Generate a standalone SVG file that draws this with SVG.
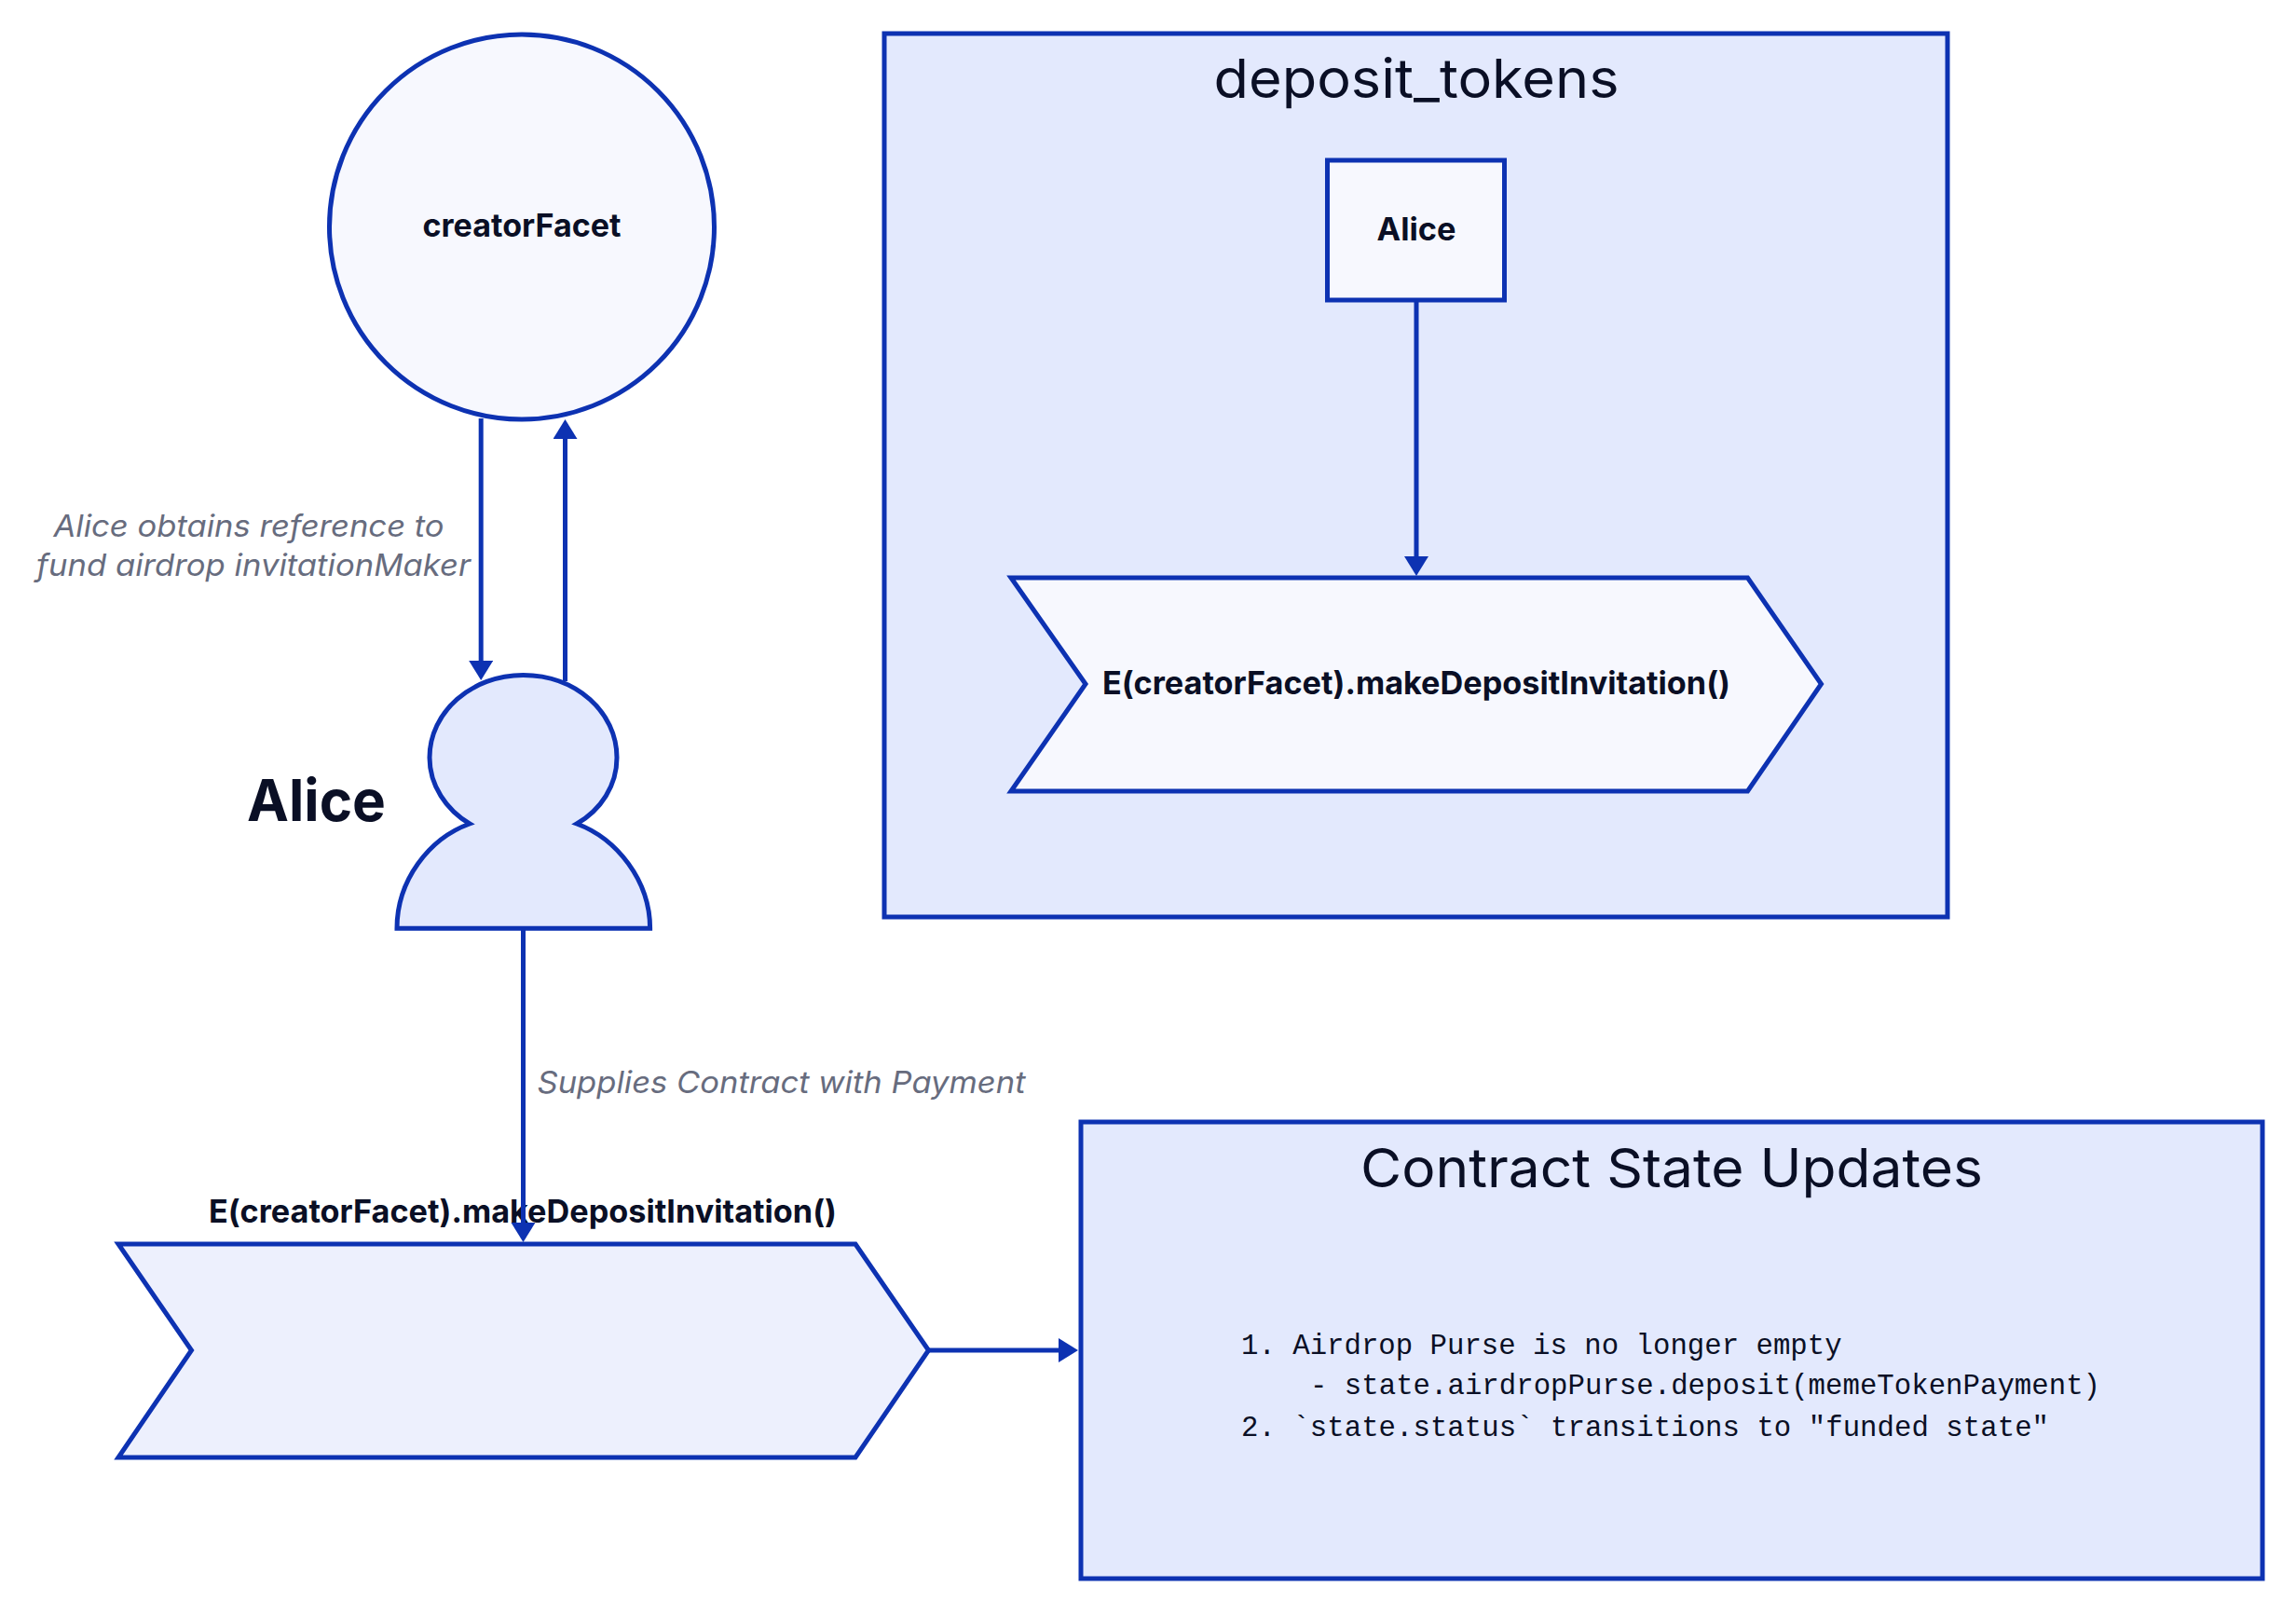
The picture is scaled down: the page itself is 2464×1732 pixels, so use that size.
<svg xmlns="http://www.w3.org/2000/svg" width="2464" height="1732" viewBox="0 0 2464 1732">
<style>
.s{stroke:#0d32b2;stroke-width:5;stroke-linejoin:miter}
.f1{fill:#e3e9fd}.f2{fill:#f7f8fe}.f3{fill:#edf0fd}
.e{fill:none;stroke:#0d32b2;stroke-width:5;marker-end:url(#a)}
text{font-family:"Inter","Liberation Sans",sans-serif;fill:#0a0f25}
.b{font-weight:700;font-size:34px}
.t{font-size:58px;font-weight:400}
.i{font-style:italic;font-size:33px;fill:#676c7e}
.m{font-family:"Liberation Mono",monospace;font-size:30.7px}
</style>
<defs><marker id="a" markerUnits="userSpaceOnUse" markerWidth="24" markerHeight="28" refX="13" refY="13" orient="auto"><path d="M0,0L21,13L0,26Z" fill="#0d32b2"/></marker></defs>
<rect width="2464" height="1732" fill="#fff"/>
<g id="creatorFacet"><circle class="s f2" cx="560" cy="243.5" r="206.5"/><text class="b" x="560" y="253.5" text-anchor="middle" textLength="213" lengthAdjust="spacingAndGlyphs">creatorFacet</text></g>
<g id="alice"><path class="s f1" d="M426,996.2H697.6C697.6,945 662,900 619,884C645,869 662,843 662,813C662,764 618,724.5 561.5,724.5C506,724.5 461,764 461,813C461,843 479,869 504,884C460,900 426,945 426,996.2Z"/><text x="339.5" y="881" text-anchor="middle" font-weight="700" font-size="62" textLength="149" lengthAdjust="spacingAndGlyphs">Alice</text></g>
<g id="deposit_tokens"><rect class="s f1" x="949" y="36" width="1141" height="948"/><text class="t" x="1520" y="105" text-anchor="middle" textLength="435" lengthAdjust="spacingAndGlyphs">deposit_tokens</text></g>
<g id="deposit_tokens.Alice"><rect class="s f2" x="1424.5" y="172" width="190" height="150"/><text class="b" x="1520" y="257.5" text-anchor="middle" textLength="85" lengthAdjust="spacingAndGlyphs">Alice</text></g>
<g id="deposit_tokens.invitation"><path class="s f2" d="M1085,620H1875.5L1954.5,734L1875.5,849H1085L1165,734Z"/><text class="b" x="1520" y="744.5" text-anchor="middle" textLength="674" lengthAdjust="spacingAndGlyphs">E(creatorFacet).makeDepositInvitation()</text></g>
<g id="invitation"><path class="s f3" d="M127,1335H918L996.5,1449L918,1564H127L205.5,1449Z"/><text class="b" x="561" y="1312" text-anchor="middle" textLength="674" lengthAdjust="spacingAndGlyphs">E(creatorFacet).makeDepositInvitation()</text></g>
<g id="contract_state"><rect class="s f1" x="1160" y="1204" width="1268" height="490"/><text class="t" x="1794" y="1273.5" text-anchor="middle" textLength="668" lengthAdjust="spacingAndGlyphs">Contract State Updates</text>
<text class="m" x="1332" y="1453">1. Airdrop Purse is no longer empty</text>
<text class="m" x="1406" y="1496" textLength="848">- state.airdropPurse.deposit(memeTokenPayment)</text>
<text class="m" x="1332" y="1541" textLength="867">2. `state.status` transitions to "funded state"</text></g>
<g id="connectors">
<path class="e" d="M516.2,449V722"/>
<path class="e" d="M606.5,731V458"/>
<path class="e" d="M561.5,997V1325"/>
<path class="e" d="M1520,322V610"/>
<path class="e" d="M996,1449H1149"/>
<text class="i" x="267" y="575.5" text-anchor="middle" textLength="419" lengthAdjust="spacingAndGlyphs">Alice obtains reference to</text>
<text class="i" x="272" y="618" text-anchor="middle" textLength="466" lengthAdjust="spacingAndGlyphs">fund airdrop invitationMaker</text>
<text class="i" x="838.5" y="1173" text-anchor="middle" textLength="524" lengthAdjust="spacingAndGlyphs">Supplies Contract with Payment</text>
</g>
</svg>
